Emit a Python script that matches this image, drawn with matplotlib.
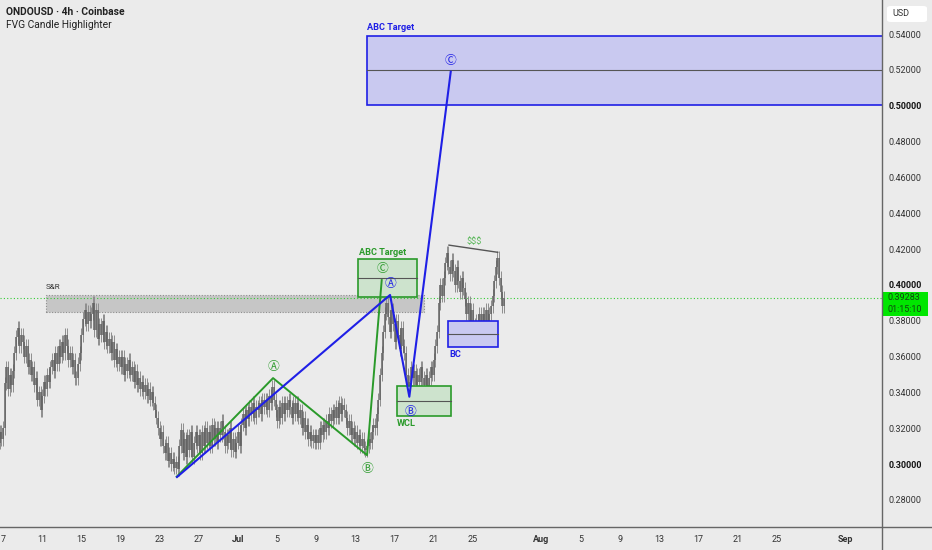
import numpy as np
import matplotlib.pyplot as plt
from matplotlib.patches import Rectangle, FancyBboxPatch
from matplotlib.lines import Line2D

plt.rcParams['font.family'] = ['Roboto', 'DejaVu Sans', 'Noto Sans CJK SC']

W, H = 932, 550
BG = '#ebebeb'

# x axis is days after Jun 1; first 4h candle opens on Jun 6
start_day = 5
closes = [
    0.318, 0.322, 0.316, 0.312, 0.318, 0.314,   # Jun 6
    0.320, 0.345, 0.354, 0.342, 0.350, 0.344,   # Jun 7
    0.352, 0.362, 0.371, 0.376, 0.366, 0.372,
    0.368, 0.360, 0.366, 0.354, 0.358, 0.350,
    0.354, 0.344, 0.348, 0.336, 0.340, 0.330,
    0.338, 0.346, 0.342, 0.350, 0.346, 0.354,   # Jun 11
    0.358, 0.352, 0.362, 0.356, 0.366, 0.360,
    0.368, 0.362, 0.372, 0.366, 0.358, 0.362,
    0.354, 0.358, 0.348, 0.348, 0.356, 0.362,
    0.372, 0.381, 0.386, 0.378, 0.385, 0.380,   # Jun 15
    0.384, 0.390, 0.375, 0.386, 0.370, 0.378,
    0.372, 0.380, 0.368, 0.374, 0.366, 0.370,
    0.362, 0.368, 0.358, 0.364, 0.356, 0.360,
    0.354, 0.360, 0.350, 0.356, 0.352, 0.358,   # Jun 19
    0.350, 0.354, 0.346, 0.352, 0.344, 0.348,
    0.342, 0.346, 0.340, 0.344, 0.338, 0.342,
    0.336, 0.340, 0.334, 0.330, 0.326, 0.320,
    0.314, 0.318, 0.310, 0.306, 0.312, 0.302,   # Jun 23
    0.306, 0.300, 0.303, 0.298, 0.301, 0.297,
    0.310, 0.319, 0.306, 0.314, 0.304, 0.316,
    0.308, 0.318, 0.304, 0.312, 0.318, 0.310,
    0.316, 0.306, 0.318, 0.310, 0.320, 0.312,   # Jun 27
    0.318, 0.310, 0.322, 0.314, 0.320, 0.312,
    0.320, 0.316, 0.324, 0.318, 0.310, 0.316,
    0.312, 0.320, 0.308, 0.314, 0.307, 0.312,
    0.318, 0.310, 0.322, 0.328, 0.320, 0.330,   # Jul 1
    0.325, 0.332, 0.328, 0.334, 0.326, 0.332,
    0.330, 0.334, 0.328, 0.336, 0.332, 0.336,
    0.330, 0.338, 0.334, 0.343, 0.336, 0.330,
    0.324, 0.332, 0.326, 0.334, 0.328, 0.334,   # Jul 5
    0.330, 0.336, 0.332, 0.326, 0.334, 0.328,
    0.334, 0.326, 0.330, 0.320, 0.326, 0.318,
    0.322, 0.314, 0.318, 0.313, 0.316, 0.312,
    0.316, 0.312, 0.320, 0.316, 0.322, 0.318,   # Jul 9
    0.324, 0.320, 0.328, 0.324, 0.330, 0.326,
    0.332, 0.326, 0.334, 0.328, 0.333, 0.330,
    0.326, 0.320, 0.324, 0.316, 0.320, 0.314,
    0.318, 0.312, 0.316, 0.310, 0.314, 0.309,   # Jul 13
    0.308, 0.310, 0.314, 0.312, 0.318, 0.322,
    0.320, 0.328, 0.336, 0.350, 0.362, 0.374,
    0.384, 0.390, 0.382, 0.374, 0.386, 0.378,
    0.368, 0.380, 0.372, 0.364, 0.376, 0.366,   # Jul 17
    0.362, 0.350, 0.341, 0.346, 0.354, 0.348,
    0.352, 0.344, 0.350, 0.346, 0.354, 0.348,
    0.344, 0.350, 0.342, 0.348, 0.354, 0.350,
    0.358, 0.366, 0.374, 0.390, 0.400, 0.394,   # Jul 21
    0.404, 0.412, 0.418, 0.410, 0.406, 0.414,
    0.408, 0.400, 0.410, 0.402, 0.396, 0.404,
    0.398, 0.392, 0.384, 0.390, 0.380, 0.386,
    0.378, 0.374, 0.380, 0.376, 0.384, 0.378,   # Jul 25
    0.384, 0.378, 0.386, 0.380, 0.384, 0.388,
    0.394, 0.402, 0.410, 0.415, 0.404, 0.396,
    0.388, 0.39283,                             # Jul 28
]
first_open = 0.314
last_price = 0.39283

# wave drawings (day, price)
blue_days = [23.77, 45.53, 47.50, 51.73]
blue_prices = [0.2928, 0.3944, 0.3376, 0.519]
green_days = [23.74, 33.58, 43.18, 44.68]
green_prices = [0.293, 0.348, 0.305, 0.4027]

# zones: (day0, day1, low, mid, high)
blue_target = (43.15, 100.0, 0.5004, 0.520, 0.539)
green_target = (42.26, 48.28, 0.3932, 0.4038, 0.4144)
wcl_zone = (46.21, 51.73, 0.3268, 0.3352, 0.3436)
bc_zone = (51.46, 56.53, 0.3652, 0.3724, 0.3798)
sr_zone = (10.39, 49.0, 0.385, 0.3944)
liq_days = [51.55, 56.53]
liq_prices = [0.4222, 0.4182]

price_ticks = [0.28, 0.30, 0.32, 0.34, 0.36, 0.38, 0.40, 0.42, 0.44, 0.46,
               0.48, 0.50, 0.52, 0.54]
date_days = [6, 10, 14, 18, 22, 26, 30, 34, 38, 42, 46, 50, 54,
             61, 65, 69, 73, 77, 81, 85, 92]
date_labels = ['7', '11', '15', '19', '23', '27', 'Jul', '5', '9', '13', '17',
               '21', '25', 'Aug', '5', '9', '13', '17', '21', '25', 'Sep']

BLUE = '#1f1fe6'
GREEN = '#2a9a2a'
CIRC = ['DejaVu Sans', 'Noto Sans CJK SC']

fig = plt.figure(figsize=(W / 100, H / 100), dpi=100)
fig.patch.set_facecolor(BG)
ax = fig.add_axes([0, 23 / H, 882 / W, 527 / H])
ax.set_facecolor(BG)
ax.set_xlim(5.69, 95.78)
ax.set_ylim(0.2649, 0.559)
for s in ax.spines.values():
    s.set_visible(False)

# candles
c = np.array(closes)
o = np.concatenate([[first_open], c[:-1]])
t = start_day + np.arange(len(c)) / 6
wick = 0.0038
ax.vlines(t, np.minimum(o, c) - wick, np.maximum(o, c) + wick,
          color='#8e8e8e', lw=0.7, zorder=2)
ax.vlines(t, np.minimum(o, c), np.maximum(o, c), color='#626262', lw=1.1,
          zorder=3)

# S&R zone
d0, d1, lo, hi = sr_zone
ax.add_patch(Rectangle((d0, lo), d1 - d0, hi - lo, facecolor='#c4c4c4',
                       edgecolor='#8a8a8a', lw=0.8, ls=(0, (1, 1.5)),
                       alpha=0.95, zorder=1))
ax.text(d0, hi + 0.0025, 'S&R', fontsize=5.8, color='#333333',
        ha='left', va='bottom')

# last price line
ax.axhline(last_price, color='#33cc33', lw=0.8, ls=(0, (1, 2)), zorder=1)


def zone(z, face, edge):
    d0, d1, lo, mid, hi = z
    ax.add_patch(Rectangle((d0, lo), d1 - d0, hi - lo, facecolor=face,
                           edgecolor=edge, lw=1.2, zorder=4))
    ax.plot([d0, d1], [mid, mid], color='#555555', lw=0.8, zorder=5)


zone(blue_target, '#c9c9f0', BLUE)
zone(green_target, '#cde3cd', GREEN)
zone(wcl_zone, '#cde3cd', GREEN)
zone(bc_zone, '#c9c9f0', BLUE)

# waves
ax.plot(green_days, green_prices, color=GREEN, lw=1.4, zorder=6)
ax.plot(blue_days, blue_prices, color=BLUE, lw=1.5, zorder=7)
ax.plot(liq_days, liq_prices, color='#555555', lw=1.0, zorder=6)

# labels
ax.text(43.15, 0.5439, 'ABC Target', color=BLUE, fontsize=6.6,
        fontweight='bold', ha='left', va='center')
ax.text(42.36, 0.4183, 'ABC Target', color=GREEN, fontsize=6.6,
        fontweight='bold', ha='left', va='center')
ax.text(46.24, 0.3229, 'WCL', color=GREEN, fontsize=6.6,
        fontweight='bold', ha='left', va='center')
ax.text(51.55, 0.3609, 'BC', color=BLUE, fontsize=6.6,
        fontweight='bold', ha='left', va='center')
ax.text(54.1, 0.4240, '$$$', color='#5cb85c', fontsize=6.6,
        ha='center', va='center')

circles = [
    (51.73, 0.5255, '\u24b8', BLUE), (45.53, 0.4010, '\u24b6', BLUE),
    (47.57, 0.3296, '\u24b7', BLUE), (33.58, 0.3547, '\u24b6', GREEN),
    (43.18, 0.2978, '\u24b7', GREEN), (44.71, 0.4094, '\u24b8', GREEN),
]
for cx, cy, ch, col in circles:
    ax.text(cx, cy, ch, color=col, fontsize=8.5, family=CIRC,
            ha='center', va='center', zorder=8)

# price axis on the right
ax.yaxis.tick_right()
ax.set_yticks(price_ticks)
ax.set_yticklabels(['%.5f' % p for p in price_ticks])
ax.tick_params(axis='y', length=0, pad=5, labelsize=6.5,
               labelcolor='#333333')
for lab, p in zip(ax.get_yticklabels(), price_ticks):
    if round(p * 100) % 10 == 0:
        lab.set_fontweight('bold')
        lab.set_color('#111111')

ax.set_xticks(date_days)
ax.set_xticklabels(date_labels)
ax.tick_params(axis='x', length=0, pad=6, labelsize=6.5,
               labelcolor='#333333')
for lab in ax.get_xticklabels():
    if lab.get_text() in ('Jul', 'Aug', 'Sep'):
        lab.set_fontweight('bold')

# frame lines
fig.add_artist(Line2D([0, 1], [1 - 527 / H, 1 - 527 / H], color='#666666',
                      lw=1.0, transform=fig.transFigure))
fig.add_artist(Line2D([882 / W, 882 / W], [0, 1], color='#666666',
                      lw=1.0, transform=fig.transFigure))

# current price tag and currency tag
fig.add_artist(Rectangle((883 / W, 1 - 316 / H), 45 / W, 24 / H,
                         facecolor='#00e600', edgecolor='none',
                         transform=fig.transFigure))
fig.text(887 / W, 1 - 298 / H, '%.5f' % last_price, fontsize=6.5,
         color='#114411', va='center', ha='left')
fig.text(887 / W, 1 - 310 / H, '01:15:10', fontsize=6.5,
         color='#114411', va='center', ha='left')
fig.add_artist(FancyBboxPatch((887 / W, 1 - 22 / H), 40 / W, 16 / H,
                              boxstyle='round,pad=0,rounding_size=0.004',
                              facecolor='white', edgecolor='none',
                              transform=fig.transFigure))
fig.text(892 / W, 1 - 13 / H, 'USD', fontsize=6.5, color='#333333',
         va='center', ha='left')

# header
fig.text(6 / W, 1 - 12 / H, 'ONDOUSD \u00b7 4h \u00b7 Coinbase',
         fontsize=7.4, fontweight='bold', color='#222222', va='center')
fig.text(6 / W, 1 - 25 / H, 'FVG Candle Highlighter', fontsize=7.4,
         color='#222222', va='center')

fig.savefig('out.png', dpi=100, facecolor=BG)
